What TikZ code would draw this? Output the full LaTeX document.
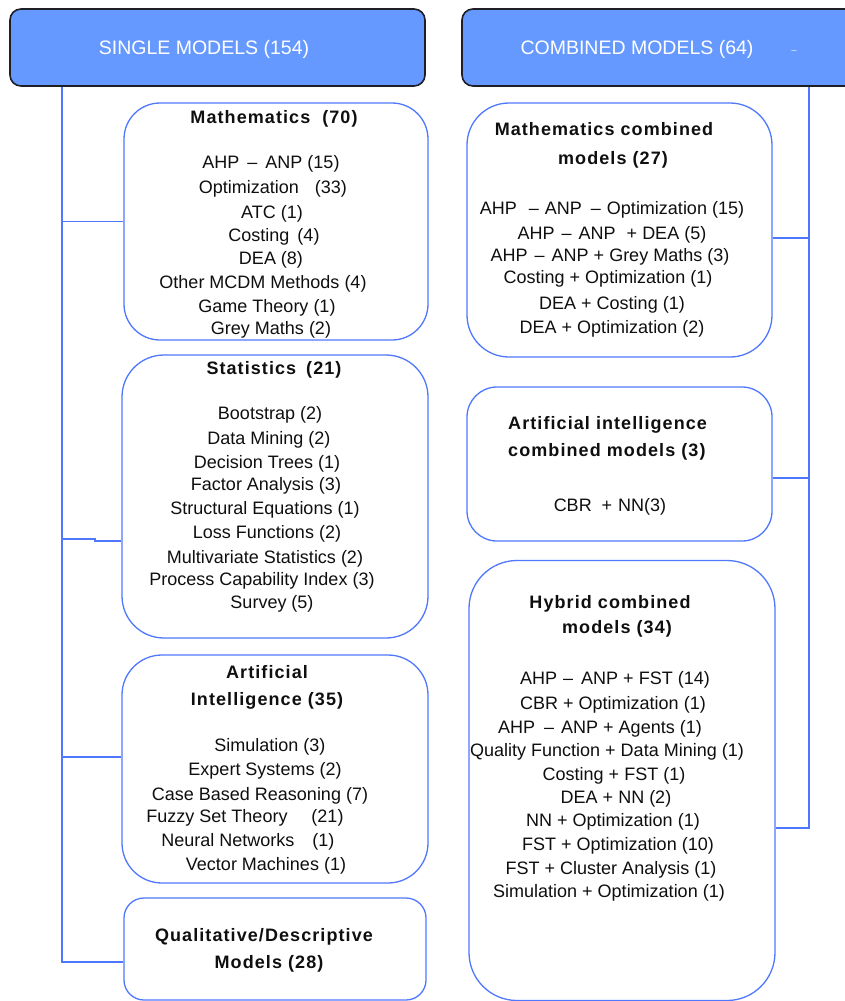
\documentclass[tikz,border=0pt]{standalone}
\usepackage{fontspec}
\setmainfont{Liberation Sans}
\newfontfamily\tfont{Liberation Sans}[LetterSpace=6]
\definecolor{hdrfill}{RGB}{102,153,255}
\definecolor{hdrline}{RGB}{30,30,38}
\definecolor{boxblue}{RGB}{80,120,255}
\definecolor{txt}{RGB}{15,15,15}
\tikzset{
  hdr/.style={draw=hdrline, fill=hdrfill, line width=1.6pt, rounded corners=11pt, inner sep=0pt},
  cbox/.style={draw=boxblue, line width=1.3pt, inner sep=0pt, fill=white},
  conn/.style={draw=boxblue, line width=1.3pt},
  ln/.style={font=\fontsize{18}{22}\selectfont, text=txt, inner sep=0pt, text height=12.9pt, text depth=0pt},
  ttl/.style={ln, font=\tfont\bfseries\fontsize{18}{22}\selectfont},
  hdrtxt/.style={font=\fontsize{19.5}{22}\selectfont, text=white, inner sep=0pt, text height=14pt, text depth=0pt},
}
\begin{document}
\begin{tikzpicture}[x=1pt,y=-1pt]
\useasboundingbox (0,0) rectangle (845,1001);
\clip (0,0) rectangle (845,1001);
% headers
\node[hdr, minimum width=415pt, minimum height=77pt] (sh) at (217.5,47.5) {};
\node[hdr, minimum width=400pt, minimum height=77pt] (ch) at (662,47.5) {};
\node[hdrtxt] (sht) at (204,47) {SINGLE MODELS (154)};
\node[hdrtxt] (cht) at (637,47) {COMBINED MODELS (64)};
\node[font=\fontsize{9}{9}\selectfont, text=white, inner sep=0pt] (chd) at (794,50) {\_};
% boxes
\node[cbox, rounded corners=36pt, minimum width=304pt, minimum height=237pt] (math) at (276,221.5) {};
\node[cbox, rounded corners=42pt, minimum width=306pt, minimum height=283pt] (stat) at (275,496.5) {};
\node[cbox, rounded corners=40pt, minimum width=306pt, minimum height=228pt] (ai) at (275,769) {};
\node[cbox, rounded corners=20pt, minimum width=302pt, minimum height=102pt] (qual) at (275,949) {};
\node[cbox, rounded corners=42pt, minimum width=305pt, minimum height=254pt] (mc) at (619.5,230) {};
\node[cbox, rounded corners=30pt, minimum width=305pt, minimum height=154pt] (ac) at (619.5,464) {};
\node[cbox, rounded corners=48pt, minimum width=306pt, minimum height=440pt] (hy) at (622,780.5) {};
% connectors left
\coordinate (tL) at (62,0);
\coordinate (tR) at (809,0);
\coordinate (qb) at ([yshift=-13pt]qual.west);
\coordinate (sbl) at ([yshift=-42.5pt]stat.west);
\coordinate (sbr) at ([yshift=-44.5pt]stat.west);
\coordinate (aib) at ([yshift=12pt]ai.west);
\draw[conn] (sh.south -| tL) |- (qb);
\draw[conn] (tL |- math.west) -- (math.west);
\draw[conn] (tL |- sbl) -- ++(33,0) |- (sbr);
\draw[conn] (tL |- aib) -- (aib);
% connectors right
\coordinate (mcb) at ([yshift=-8pt]mc.east);
\coordinate (acb) at ([yshift=-14pt]ac.east);
\coordinate (hyb) at ([yshift=-47.5pt]hy.east);
\draw[conn] (ch.south -| tR) |- (hyb);
\draw[conn] (tR |- mcb) -- (mcb);
\draw[conn] (tR |- acb) -- (acb);
% Mathematics
\node[ttl] (mt) at (274,117) {Mathematics\hspace{12pt}(70)};
\foreach \x/\y/\t [count=\i] in {
  271/162/{AHP\hspace{8pt}–\hspace{8pt}ANP (15)},
  273/187/{Optimization\hspace{16pt}(33)},
  272/212/{ATC (1)},
  274/235/{Costing\hspace{8pt}(4)},
  271/258/{DEA (8)},
  263/282/{Other MCDM Methods (4)},
  267/306/{Game Theory (1)},
  271/328/{Grey Maths (2)}}
  \node[ln] (m\i) at (\x,\y) {\t};
% Statistics
\node[ttl] (st) at (274,368) {Statistics\hspace{10pt}(21)};
\foreach \x/\y/\t [count=\i] in {
  270/413/{Bootstrap (2)},
  269/438/{Data Mining (2)},
  267/462/{Decision Trees (1)},
  266/484/{Factor Analysis (3)},
  265/508/{Structural Equations (1)},
  267/532/{Loss Functions (2)},
  265/557/{Multivariate Statistics (2)},
  262/579/{Process Capability Index (3)},
  272/602/{Survey (5)}}
  \node[ln] (s\i) at (\x,\y) {\t};
% Artificial Intelligence
\node[ttl] (at1) at (267,672) {Artificial};
\node[ttl] (at2) at (267,699) {Intelligence (35)};
\foreach \x/\y/\t [count=\i] in {
  270/745/{Simulation (3)},
  265/769/{Expert Systems (2)},
  260/794/{Case Based Reasoning (7)},
  245/816/{Fuzzy Set Theory\hspace{24pt}(21)},
  248/840/{Neural Networks\hspace{18pt}(1)},
  266/864/{Vector Machines (1)}}
  \node[ln] (a\i) at (\x,\y) {\t};
% Qualitative
\node[ttl] (qt1) at (264,935) {Qualitative/Descriptive};
\node[ttl] (qt2) at (269,962) {Models (28)};
% Mathematics combined
\node[ttl] (mct1) at (604,129) {Mathematics combined};
\node[ttl] (mct2) at (613,158) {models (27)};
\foreach \x/\y/\t [count=\i] in {
  612/208/{AHP\hspace{12pt}–\hspace{6pt}ANP\hspace{9pt}–\hspace{6pt}Optimization (15)},
  612/233/{AHP\hspace{7pt}–\hspace{7pt}ANP\hspace{11pt}+\hspace{5pt}DEA (5)},
  610/255/{AHP\hspace{7pt}–\hspace{7pt}ANP + Grey Maths (3)},
  608/277/{Costing + Optimization (1)},
  612/303/{DEA + Costing (1)},
  612/327/{DEA + Optimization (2)}}
  \node[ln] (c\i) at (\x,\y) {\t};
% AI combined
\node[ttl, anchor=west] (act1) at (508,423) {Artificial intelligence};
\node[ttl, anchor=west] (act2) at (508,450) {combined models (3)};
\node[ln] (ac1) at (610,505) {CBR\hspace{10pt}+\hspace{6pt}NN(3)};
% Hybrid
\node[ttl] (ht1) at (610,602) {Hybrid combined};
\node[ttl] (ht2) at (617,627) {models (34)};
\foreach \x/\y/\t [count=\i] in {
  615/678/{AHP\hspace{6pt}–\hspace{8pt}ANP + FST (14)},
  613/703/{CBR + Optimization (1)},
  600/727/{AHP\hspace{9pt}–\hspace{7pt}ANP + Agents (1)},
  607/750/{Quality Function + Data Mining (1)},
  614/774/{Costing + FST (1)},
  616/797/{DEA + NN (2)},
  613/820/{NN + Optimization (1)},
  618/844/{FST + Optimization (10)},
  611/868/{FST + Cluster Analysis (1)},
  609/891/{Simulation + Optimization (1)}}
  \node[ln] (h\i) at (\x,\y) {\t};
\end{tikzpicture}
\end{document}
